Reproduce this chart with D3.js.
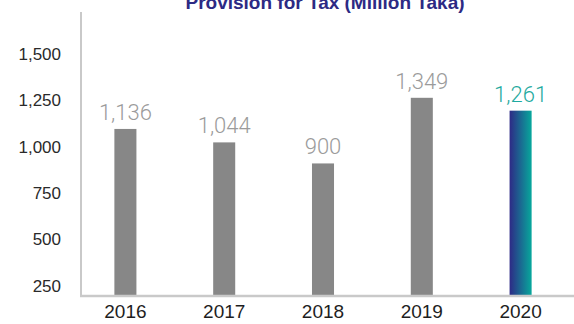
<!DOCTYPE html>
<html>
<head>
<meta charset="utf-8">
<script src="https://cdn.jsdelivr.net/npm/d3@7"></script>
<style>
  html, body { margin: 0; padding: 0; background: #ffffff; }
  svg { display: block; }
</style>
</head>
<body>
<svg id="chart" width="574" height="324"></svg>
<script>
// Provision for tax, million Taka
const years = ["2016", "2017", "2018", "2019", "2020"];
const values = [1136, 1044, 900, 1349, 1261];
const valueLabels = ["1,136", "1,044", "900", "1,349", "1,261"];
const yTicks = [250, 500, 750, 1000, 1250, 1500];
const titleText = "Provision for Tax (Million Taka)";

const width = 574, height = 324;
const plot = { left: 81, right: 574, top: 12, bottom: 295 };

const svg = d3.select("#chart");

const defs = svg.append("defs");
const grad = defs.append("linearGradient")
  .attr("id", "highlight")
  .attr("x1", "0%").attr("x2", "100%")
  .attr("y1", "0%").attr("y2", "0%");
grad.append("stop").attr("offset", "0%").attr("stop-color", "#2e2a86");
grad.append("stop").attr("offset", "100%").attr("stop-color", "#07a89c");

const x = d3.scaleBand()
  .domain(years)
  .range([76, 570])
  .paddingInner(0.777)
  .paddingOuter(0.3885);

// bar heights run from zero at the baseline
const yBar = d3.scaleLinear().domain([0, 1936]).range([plot.bottom, plot.top]);
// tick scale of the value axis
const yAxisScale = d3.scaleLinear().domain([201, 1726]).range([plot.bottom, plot.top]);

// title, partly above the top edge
svg.append("text")
  .attr("x", 325)
  .attr("y", 9)
  .attr("text-anchor", "middle")
  .attr("font-family", "'Liberation Sans', Arial, sans-serif")
  .attr("font-weight", "bold")
  .attr("font-size", 19)
  .attr("fill", "#2d2a84")
  .text(titleText);

// y axis
const yAxis = d3.axisLeft(yAxisScale)
  .tickValues(yTicks)
  .tickSize(0)
  .tickPadding(0)
  .tickFormat(d3.format(","));
const gy = svg.append("g")
  .attr("transform", `translate(61,0)`)
  .call(yAxis);
gy.select(".domain").remove();
gy.selectAll("text")
  .attr("font-family", "'Liberation Sans', Arial, sans-serif")
  .attr("font-size", 17)
  .attr("fill", "#2a2a2a");

// bars
svg.append("g").selectAll("rect")
  .data(values)
  .join("rect")
  .attr("x", (d, i) => x(years[i]))
  .attr("width", x.bandwidth())
  .attr("y", d => yBar(d))
  .attr("height", d => yBar(0) - yBar(d))
  .attr("fill", (d, i) => i === values.length - 1 ? "url(#highlight)" : "#878787");

// value labels
svg.append("g").selectAll("text")
  .data(values)
  .join("text")
  .attr("x", (d, i) => x(years[i]) + x.bandwidth() / 2)
  .attr("y", d => yBar(d) - 9)
  .attr("text-anchor", "middle")
  .attr("font-family", "Roboto, 'Liberation Sans', sans-serif")
  .attr("font-weight", 300)
  .attr("font-size", 22)
  .attr("fill", (d, i) => i === values.length - 1 ? "#1faaa0" : "#9b9b9b")
  .text((d, i) => valueLabels[i]);

// axis frame lines
svg.append("line")
  .attr("x1", plot.left).attr("x2", plot.left)
  .attr("y1", plot.top).attr("y2", plot.bottom + 1)
  .attr("stroke", "#c9c9c9").attr("stroke-width", 2);

// x axis
const xAxis = d3.axisBottom(x).tickSize(0).tickPadding(10);
const gx = svg.append("g")
  .attr("transform", `translate(0,${plot.bottom})`)
  .call(xAxis);
gx.select(".domain").remove();
gx.append("line")
  .attr("x1", plot.left - 1).attr("x2", plot.right)
  .attr("y1", 1).attr("y2", 1)
  .attr("stroke", "#c9c9c9").attr("stroke-width", 2.5);
gx.selectAll("text")
  .attr("font-family", "'Liberation Sans', Arial, sans-serif")
  .attr("font-size", 19)
  .attr("fill", "#1e1e1e");
</script>
</body>
</html>
